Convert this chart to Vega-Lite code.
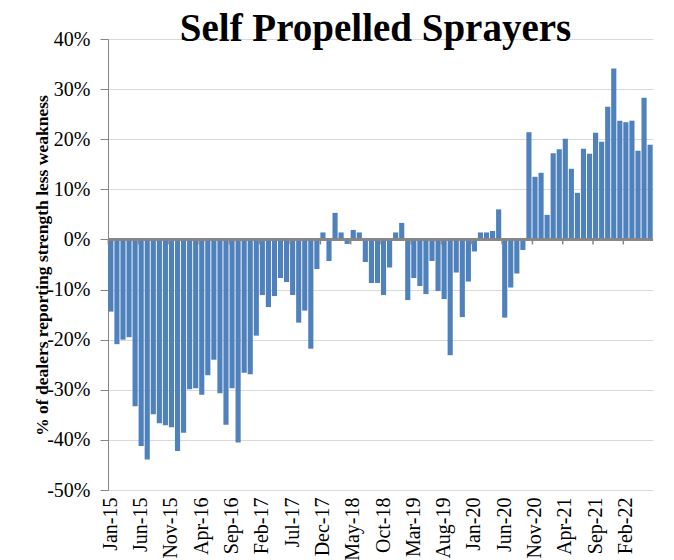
{
  "$schema": "https://vega.github.io/schema/vega-lite/v6.json",
  "width": 545,
  "height": 451,
  "autosize": {"type": "none"},
  "padding": {"left": 108, "top": 39, "right": 21, "bottom": 70},
  "background": "white",
  "title": {"text": "Self Propelled Sprayers", "font": "Liberation Serif", "fontSize": 39, "fontWeight": "bold", "color": "black", "anchor": "middle", "dx": -5, "dy": 44, "baseline": "alphabetic", "offset": -7},
  "config": {
    "view": {"stroke": null},
    "axis": {"labelFont": "Liberation Serif", "titleFont": "Liberation Serif", "labelColor": "black", "titleColor": "black"}
  },
  "data": {"values": [
    {"m": "Jan-15", "v": -14.4}, {"m": "Feb-15", "v": -20.9}, {"m": "Mar-15", "v": -20.0}, {"m": "Apr-15", "v": -19.5},
    {"m": "May-15", "v": -33.3}, {"m": "Jun-15", "v": -41.2}, {"m": "Jul-15", "v": -43.9}, {"m": "Aug-15", "v": -34.9},
    {"m": "Sep-15", "v": -36.7}, {"m": "Oct-15", "v": -37.1}, {"m": "Nov-15", "v": -37.5}, {"m": "Dec-15", "v": -42.2},
    {"m": "Jan-16", "v": -38.6}, {"m": "Feb-16", "v": -29.9}, {"m": "Mar-16", "v": -29.7}, {"m": "Apr-16", "v": -31.0},
    {"m": "May-16", "v": -27.1}, {"m": "Jun-16", "v": -24.0}, {"m": "Jul-16", "v": -30.7}, {"m": "Aug-16", "v": -37.0},
    {"m": "Sep-16", "v": -29.7}, {"m": "Oct-16", "v": -40.5}, {"m": "Nov-16", "v": -26.6}, {"m": "Dec-16", "v": -26.9},
    {"m": "Jan-17", "v": -19.2}, {"m": "Feb-17", "v": -11.1}, {"m": "Mar-17", "v": -13.5}, {"m": "Apr-17", "v": -11.3},
    {"m": "May-17", "v": -7.7}, {"m": "Jun-17", "v": -8.5}, {"m": "Jul-17", "v": -11.1}, {"m": "Aug-17", "v": -16.6},
    {"m": "Sep-17", "v": -14.2}, {"m": "Oct-17", "v": -21.8}, {"m": "Nov-17", "v": -5.9}, {"m": "Dec-17", "v": 1.4},
    {"m": "Jan-18", "v": -4.3}, {"m": "Feb-18", "v": 5.3}, {"m": "Mar-18", "v": 1.4}, {"m": "Apr-18", "v": -0.9},
    {"m": "May-18", "v": 1.9}, {"m": "Jun-18", "v": 1.4}, {"m": "Jul-18", "v": -4.5}, {"m": "Aug-18", "v": -8.7},
    {"m": "Sep-18", "v": -8.7}, {"m": "Oct-18", "v": -11.1}, {"m": "Nov-18", "v": -5.6}, {"m": "Dec-18", "v": 1.4},
    {"m": "Jan-19", "v": 3.3}, {"m": "Feb-19", "v": -12.1}, {"m": "Mar-19", "v": -7.7}, {"m": "Apr-19", "v": -9.3},
    {"m": "May-19", "v": -10.9}, {"m": "Jun-19", "v": -4.3}, {"m": "Jul-19", "v": -10.3}, {"m": "Aug-19", "v": -11.9},
    {"m": "Sep-19", "v": -23.1}, {"m": "Oct-19", "v": -6.6}, {"m": "Nov-19", "v": -15.5}, {"m": "Dec-19", "v": -8.4},
    {"m": "Jan-20", "v": -2.4}, {"m": "Feb-20", "v": 1.4}, {"m": "Mar-20", "v": 1.4}, {"m": "Apr-20", "v": 1.7},
    {"m": "May-20", "v": 6.0}, {"m": "Jun-20", "v": -15.6}, {"m": "Jul-20", "v": -9.6}, {"m": "Aug-20", "v": -6.8},
    {"m": "Sep-20", "v": -2.1}, {"m": "Oct-20", "v": 21.4}, {"m": "Nov-20", "v": 12.5}, {"m": "Dec-20", "v": 13.3},
    {"m": "Jan-21", "v": 4.9}, {"m": "Feb-21", "v": 17.2}, {"m": "Mar-21", "v": 18.0}, {"m": "Apr-21", "v": 20.1},
    {"m": "May-21", "v": 14.1}, {"m": "Jun-21", "v": 9.3}, {"m": "Jul-21", "v": 18.1}, {"m": "Aug-21", "v": 17.1},
    {"m": "Sep-21", "v": 21.3}, {"m": "Oct-21", "v": 19.5}, {"m": "Nov-21", "v": 26.5}, {"m": "Dec-21", "v": 34.1},
    {"m": "Jan-22", "v": 23.7}, {"m": "Feb-22", "v": 23.4}, {"m": "Mar-22", "v": 23.7}, {"m": "Apr-22", "v": 17.7},
    {"m": "May-22", "v": 28.3}, {"m": "Jun-22", "v": 18.9}
  ]},
  "layer": [
    {
      "mark": {"type": "bar", "color": "#4f81bd"},
      "encoding": {
        "x": {"field": "m", "type": "ordinal", "sort": null,
          "scale": {"paddingInner": 0.15, "paddingOuter": 0.05},
          "axis": {"title": null, "labelAngle": -90, "labelFontSize": 20, "ticks": false, "domain": false, "grid": false, "labelPadding": 7,
            "values": ["Jan-15", "Jun-15", "Nov-15", "Apr-16", "Sep-16", "Feb-17", "Jul-17", "Dec-17", "May-18", "Oct-18", "Mar-19", "Aug-19", "Jan-20", "Jun-20", "Nov-20", "Apr-21", "Sep-21", "Feb-22"]}},
        "y": {"field": "v", "type": "quantitative",
          "scale": {"domain": [-50, 40], "nice": false},
          "axis": {"values": [-50, -40, -30, -20, -10, 0, 10, 20, 30, 40], "labelExpr": "datum.value + '%'",
            "title": "% of dealers reporting  strength less weakness", "titleFontSize": 17.5, "titleFontWeight": "bold",
            "titleX": -57, "titleY": 226, "titleAngle": -90, "titleBaseline": "bottom", "titleAlign": "center",
            "labelFontSize": 20, "tickSize": 8, "tickColor": "#868686", "domainColor": "#868686", "gridColor": "#d9d9d9",
            "labelPadding": 10}}
      }
    },
    {
      "mark": {"type": "rule", "color": "#868686", "strokeWidth": 1.5},
      "encoding": {"y": {"datum": 0}}
    },
    {
      "transform": [{"filter": {"field": "m", "oneOf": ["Jan-15", "Jun-15", "Nov-15", "Apr-16", "Sep-16", "Feb-17", "Jul-17", "Dec-17", "May-18", "Oct-18", "Mar-19", "Aug-19", "Jan-20", "Jun-20", "Nov-20", "Apr-21", "Sep-21", "Feb-22"]}}],
      "mark": {"type": "rule", "color": "#868686", "strokeWidth": 1.5},
      "encoding": {
        "x": {"field": "m", "type": "ordinal", "sort": null, "bandPosition": 0},
        "y": {"datum": 0},
        "y2": {"datum": -1}
      }
    }
  ]
}
